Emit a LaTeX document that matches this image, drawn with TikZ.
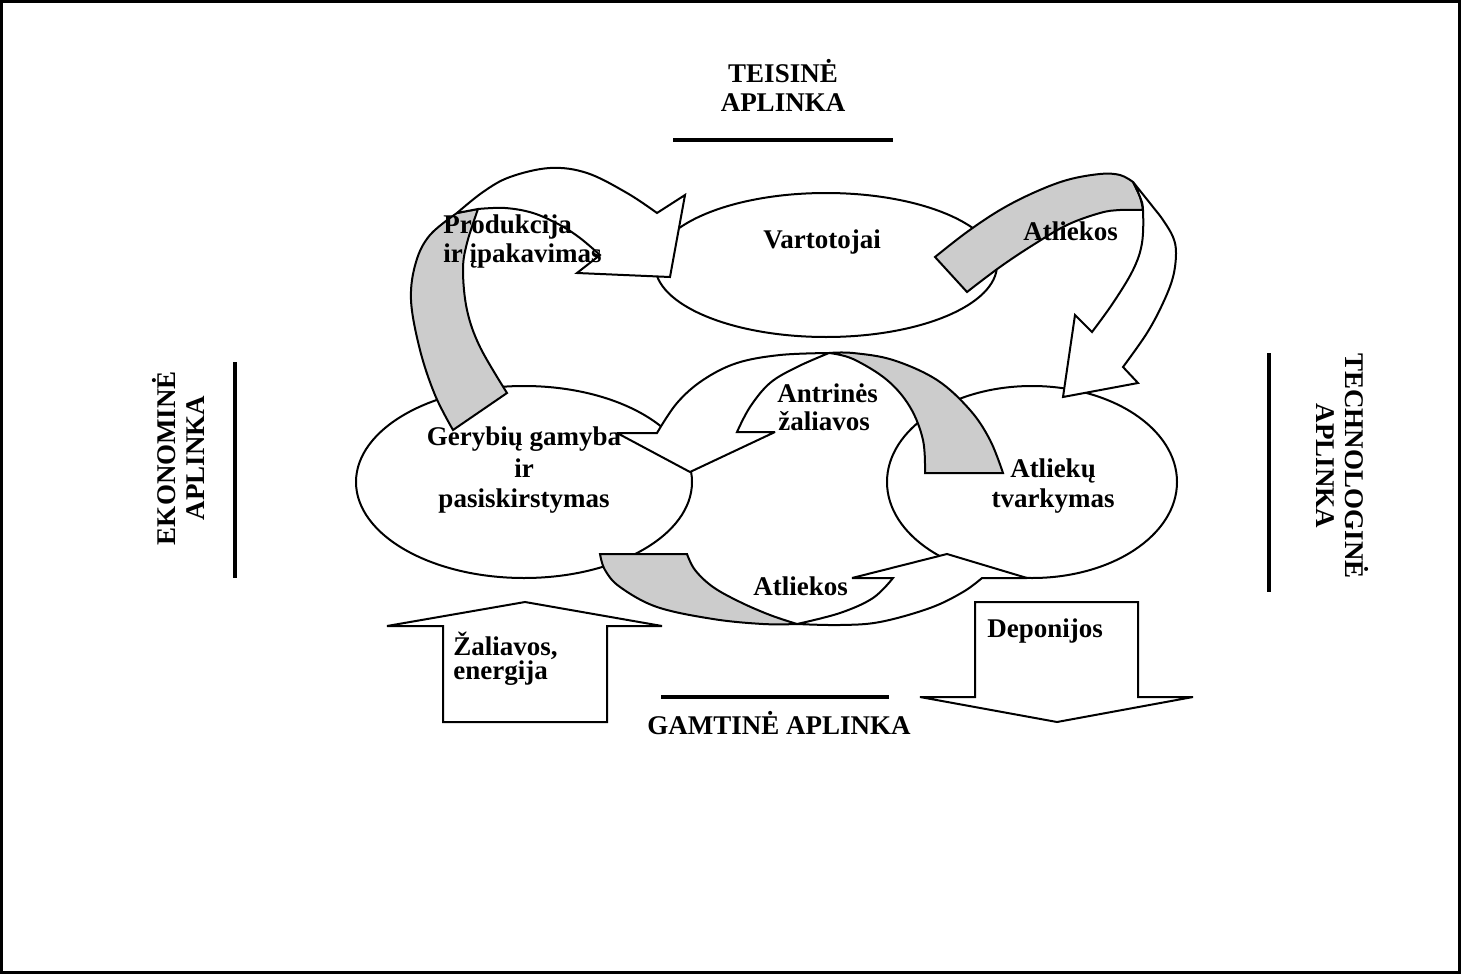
\documentclass[tikz,border=0pt]{standalone}
\usepackage{fontspec}
\setmainfont{Liberation Serif}
\usetikzlibrary{shapes.geometric}
\definecolor{shadegrey}{RGB}{204,204,204}
\newcommand\diagfont{\fontsize{13.5}{14.5}\selectfont\bfseries}
\tikzset{
  blob/.style={ellipse, draw, fill=white, line width=1pt, inner sep=0pt, outer sep=0pt},
  band/.style={draw, fill=white, line width=1pt, miter limit=3},
  backband/.style={band, fill=shadegrey},
  lbl/.style={font=\diagfont, inner sep=0pt, anchor=base},
  lblw/.style={lbl, anchor=base west},
  bar/.style={line width=2pt},
  curve/.style={smooth, tension=0.6}
}
\begin{document}
\begin{tikzpicture}[x=0.5pt, y=-0.5pt]
\useasboundingbox (0,0) rectangle (1461,974);
% frame
\draw[line width=1.5pt, fill=white] (1.5,1.5) rectangle (1459.5,972.5);

% the three stages
\node[blob, minimum width=171pt, minimum height=72pt] (cons) at (826,265) {};
\node[blob, minimum width=168pt, minimum height=96pt] (prod) at (524,482) {};
\node[blob, minimum width=145pt, minimum height=96pt] (mgmt) at (1032,482) {};

% secondary raw materials: from waste management back to production
\filldraw[band] plot[curve] coordinates {(657,433) (677,403) (703,380) (737,363) (780,355) (829,353)}
  -- plot[curve] coordinates {(829,353) (797,367) (770,383) (750,407) (737,432)}
  -- (775,432) -- (690,472) -- (617,433) -- cycle;
\filldraw[backband] plot[curve] coordinates {(829,353) (853,353) (893,360) (937,380) (970,410) (990,440) (1003,473)}
  -- (925,473)
  -- plot[curve] coordinates {(925,473) (923,440) (910,407) (887,380) (853,359) (829,353)} -- cycle;

% waste from production to waste management
\filldraw[backband] plot[curve] coordinates {(600,554) (605,570) (620,587) (657,607) (713,619) (763,624) (797,624)}
  -- plot[curve] coordinates {(797,624) (770,615) (740,602) (713,587) (695,570) (687,554)} -- cycle;
\filldraw[band] plot[curve] coordinates {(797,624) (840,625) (880,622) (930,608) (963,592) (982,578)}
  -- (1027,578) -- (947,554) -- (852,578) -- (893,578)
  -- plot[curve] coordinates {(893,578) (873,598) (840,613) (797,624)} -- cycle;

% products and packaging to consumers
\filldraw[backband] plot[curve] coordinates {(453,430) (435,395) (420,350) (411,300) (416,262) (430,235) (457,213)}
  -- (478,209)
  -- plot[curve] coordinates {(478,209) (467,243) (463,270) (467,310) (480,347) (507,393)} -- cycle;
\filldraw[band] plot[curve] coordinates {(457,213) (483,192) (510,177) (550,168) (587,173) (627,193) (657,213)}
  -- (685,195) -- (670,277) -- (577,273) -- (600,255)
  -- plot[curve] coordinates {(600,255) (580,238) (560,225) (533,213) (505,208) (478,209)} -- cycle;

% waste from consumers to waste management
\filldraw[backband] plot[curve] coordinates {(935,257) (967,232) (1000,210) (1033,193) (1067,180) (1100,174) (1120,175) (1133,182)}
  -- plot[curve] coordinates {(1133,182) (1140,197) (1143,210)}
  -- plot[curve] coordinates {(1143,210) (1120,210) (1100,213) (1067,225) (1033,245) (1000,267) (967,292)} -- cycle;
\filldraw[band] plot[curve] coordinates {(1133,182) (1153,207) (1163,220) (1173,237) (1176,253) (1173,277) (1163,303) (1147,333) (1123,367)}
  -- (1138,383) -- (1063,397) -- (1075,315) -- (1092,332)
  -- plot[curve] coordinates {(1092,332) (1113,303) (1133,270) (1142,243) (1143,210) (1140,197) (1133,182)} -- cycle;

% inflow and outflow
\filldraw[band] (443,722) -- (607,722) -- (607,626) -- (662,626) -- (525,602) -- (387,626) -- (443,626) -- cycle;
\filldraw[band] (975,602) -- (1138,602) -- (1138,697) -- (1193,697) -- (1057,722) -- (920,697) -- (975,697) -- cycle;

% environment separators
\coordinate (legA) at (673,140); \coordinate (legB) at (893,140);
\coordinate (natA) at (661,697); \coordinate (natB) at (889,697);
\coordinate (ecoA) at (235,362); \coordinate (ecoB) at (235,578);
\coordinate (tecA) at (1269,353); \coordinate (tecB) at (1269,592);
\draw[bar] (legA) -- (legB);
\draw[bar] (natA) -- (natB);
\draw[bar] (ecoA) -- (ecoB);
\draw[bar] (tecA) -- (tecB);

% labels
\node[lbl] (legal1) at (783,83) {TEISINĖ};
\node[lbl] (legal2) at (783,112) {APLINKA};
\node[lbl] (nature) at (779,734) {GAMTINĖ APLINKA};
\node[lbl, rotate=90] (econ1) at (175,458) {EKONOMINĖ};
\node[lbl, rotate=90] (econ2) at (204,458) {APLINKA};
\node[lbl, rotate=-90] (tech1) at (1345,466) {TECHNOLOGINĖ};
\node[lbl, rotate=-90] (tech2) at (1316,466) {APLINKA};

\node[lbl] (consT) at (822,248) {Vartotojai};
\node[lblw] (wasteT1) at (1023,240) {Atliekos};
\node[lblw] (packT1) at (443,233) {Produkcija};
\node[lblw] (packT2) at (443,262) {ir įpakavimas};
\node[lbl] (prodT1) at (524,445) {Gerybių gamyba};
\node[lbl] (prodT2) at (524,477) {ir};
\node[lbl] (prodT3) at (524,507) {pasiskirstymas};
\node[lblw] (secT1) at (777,402) {Antrinės};
\node[lblw] (secT2) at (778,430) {žaliavos};
\node[lbl] (mgmtT1) at (1053,477) {Atliekų};
\node[lbl] (mgmtT2) at (1053,507) {tvarkymas};
\node[lblw] (wasteT2) at (753,595) {Atliekos};
\node[lblw] (dumpT) at (987,637) {Deponijos};
\node[lblw] (rawT1) at (453,655) {Žaliavos,};
\node[lblw] (rawT2) at (453,679) {energija};
\end{tikzpicture}
\end{document}
